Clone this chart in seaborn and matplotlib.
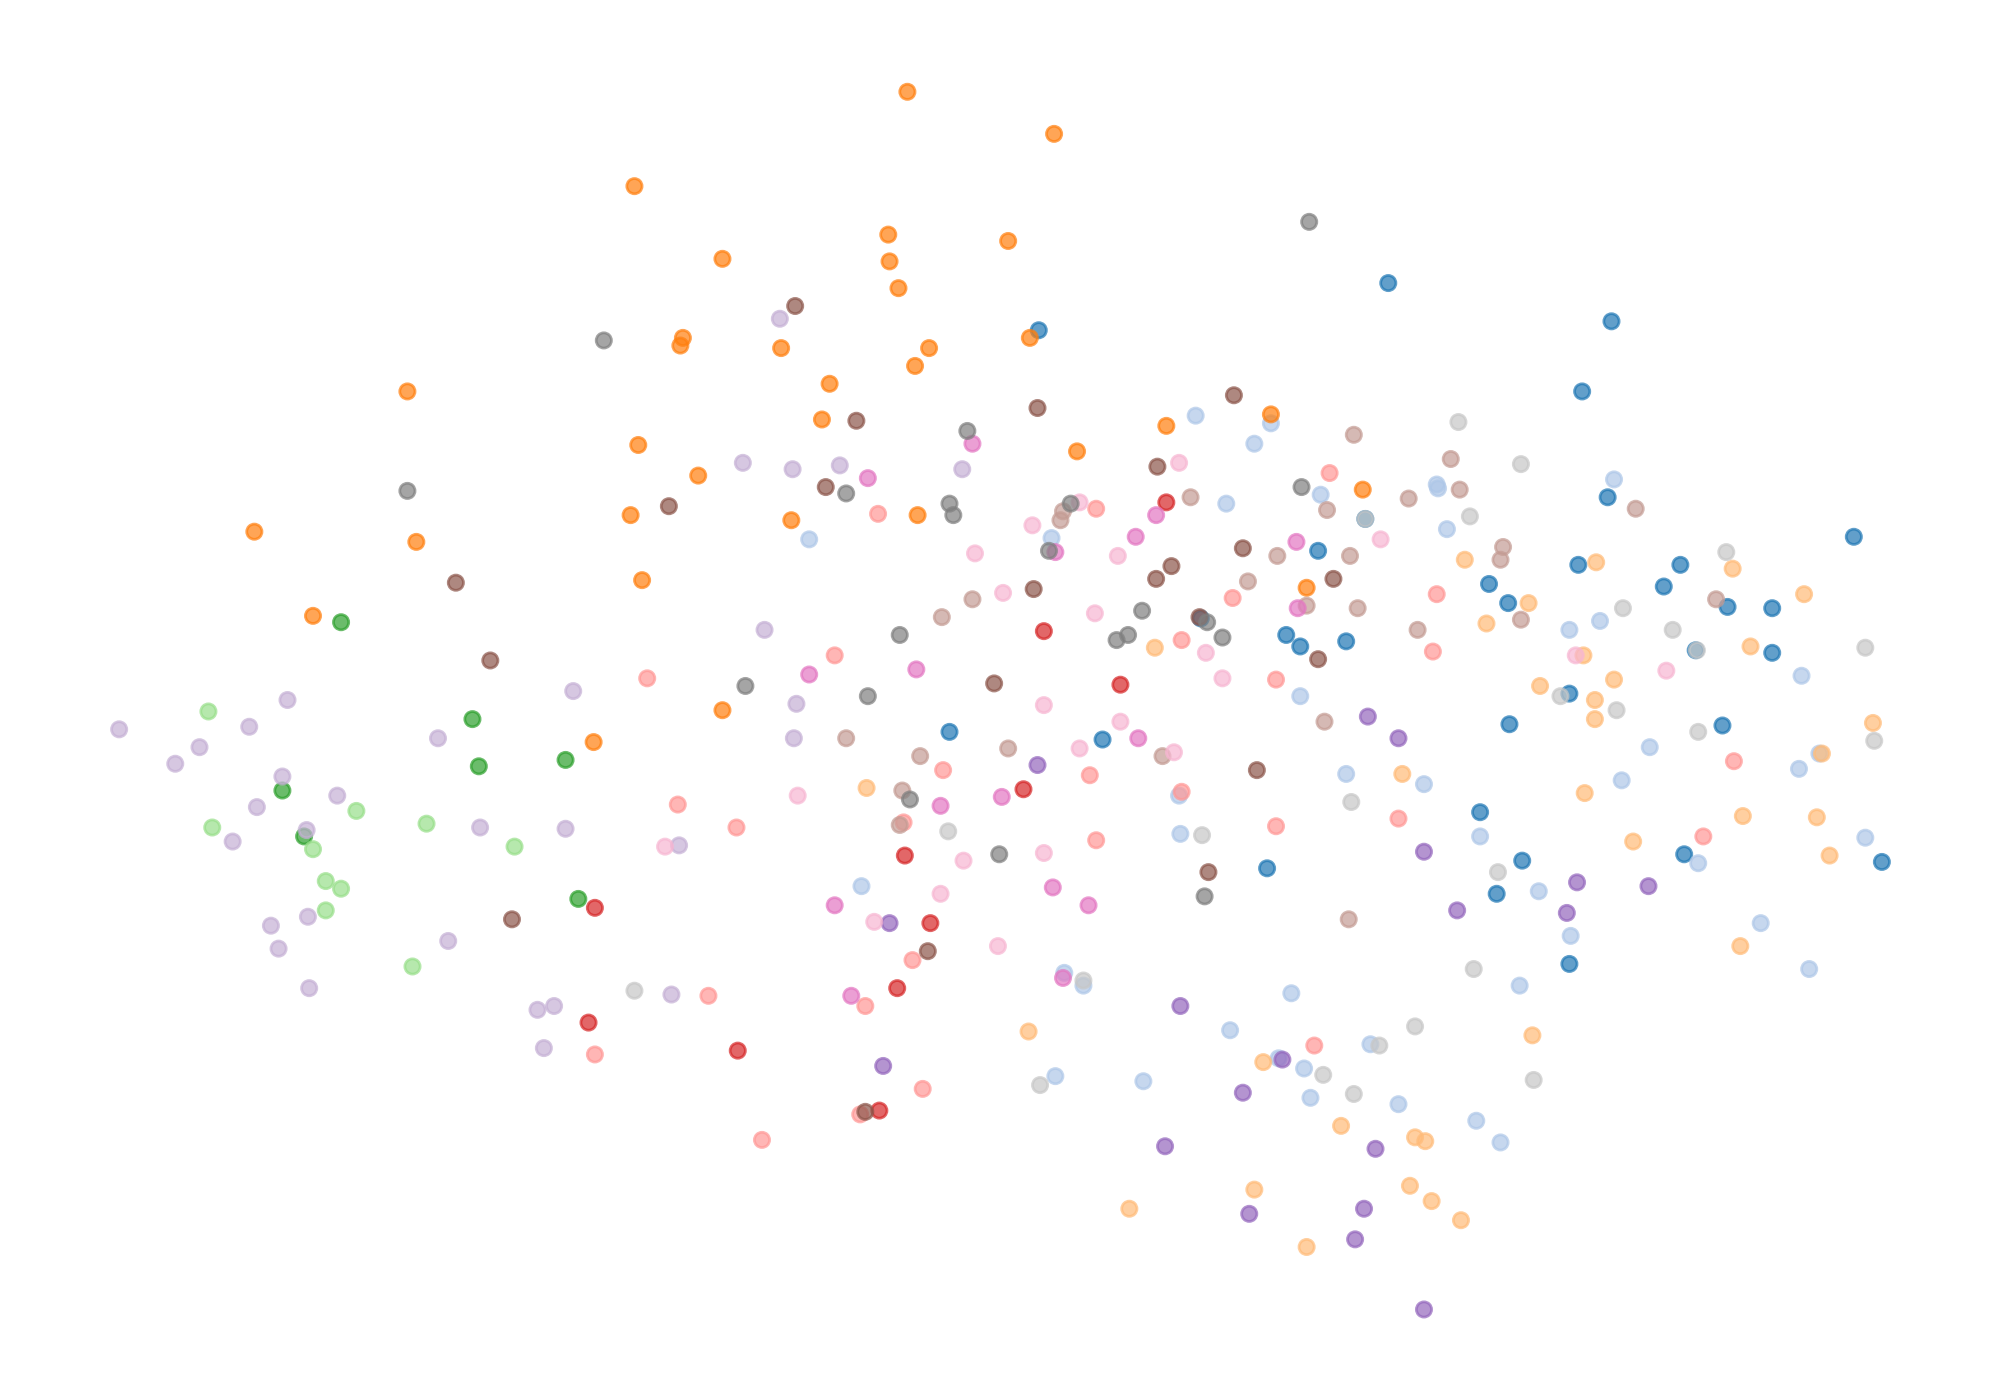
import matplotlib
matplotlib.use("Agg")
import matplotlib.pyplot as plt
import pandas as pd
import seaborn as sns

blue = [(814,259),(1088,222),(1263,252),(1240,307),(1260,390),(1453,421),(1033,432),(1237,443),(1167,458),(1182,473),(1317,443),(1304,460),(1354,476),(1389,477),(1008,498),(1019,507),(1055,503),(1329,510),(1389,512),(1230,544),(1183,568),(1350,569),(744,574),(864,580),(1160,637),(1193,675),(1320,670),(1475,676),(993,681),(1173,701),(1230,756),(941,485),(1070,407)]
light_blue = [(937,326),(996,332),(983,348),(1035,388),(1265,376),(1126,380),(1127,383),(961,395),(1134,415),(824,422),(634,423),(1230,494),(1254,487),(1412,530),(1019,546),(1293,586),(1410,603),(1271,612),(1116,615),(1055,607),(924,624),(1160,656),(925,654),(1462,657),(1331,677),(1206,699),(675,695),(1380,724),(1231,734),(834,763),(849,773),(1012,779),(1191,773),(1418,760),(964,808),(1074,819),(1002,830),(1022,838),(827,844),(896,848),(1027,861),(1096,866),(1157,879),(1176,896),(1426,591)]
orange = [(711,72),(826,105),(497,146),(696,184),(790,189),(566,203),(697,205),(704,226),(535,265),(533,271),(612,273),(728,273),(807,265),(717,287),(319,307),(650,301),(644,329),(914,334),(996,325),(844,354),(500,349),(547,373),(1068,384),(494,404),(620,408),(719,404),(199,417),(326,425),(503,455),(1024,461),(245,483),(566,557),(465,582)]
light_orange = [(1148,439),(1251,441),(1358,446),(1198,473),(1165,489),(1414,466),(905,508),(1372,507),(1241,514),(1265,533),(1207,538),(1250,549),(1250,564),(1468,567),(1428,591),(1099,607),(1242,622),(679,618),(1366,640),(1424,641),(1280,660),(1434,671),(1364,742),(806,809),(1201,812),(990,833),(1051,883),(1109,892),(1117,895),(1105,930),(983,933),(1122,942),(885,948),(1145,957),(1024,978)]
green = [(267,488),(370,564),(375,601),(443,596),(221,620),(238,656),(453,705)]
light_green = [(163,558),(279,636),(166,649),(334,646),(245,666),(403,664),(255,691),(267,697),(255,714),(323,758)]
red = [(914,394),(818,495),(878,537),(802,619),(709,671),(466,712),(729,724),(703,775),(461,802),(578,824),(689,871)]
light_red = [(1042,371),(859,399),(688,403),(966,469),(1126,466),(926,502),(654,514),(1123,511),(507,532),(1000,533),(739,604),(854,608),(1359,597),(926,621),(531,631),(1096,642),(708,645),(577,649),(1000,648),(859,659),(1335,656),(715,753),(555,781),(678,789),(1030,820),(466,827),(723,854),(674,874),(597,894)]
purple = [(1072,562),(1096,579),(813,600),(1116,668),(1236,692),(1292,695),(1142,714),(1228,716),(697,724),(925,789),(692,836),(1005,831),(974,857),(913,899),(1078,901),(1069,948),(979,952),(1062,972),(1116,1027)]
light_purple = [(611,250),(582,363),(621,368),(658,365),(754,368),(599,494),(449,542),(225,549),(195,570),(93,572),(156,586),(343,579),(622,579),(624,552),(137,599),(221,609),(264,624),(201,633),(240,651),(376,649),(443,650),(182,660),(532,663),(241,719),(212,726),(351,738),(218,744),(242,775),(526,780),(434,789),(421,792),(426,822)]
brown = [(623,240),(967,310),(813,320),(671,330),(907,366),(647,382),(524,397),(357,457),(974,430),(918,444),(906,454),(1045,454),(810,462),(940,484),(384,518),(1033,517),(779,536),(985,604),(947,684),(401,721),(727,746),(678,872)]
light_brown = [(1061,341),(1137,360),(1104,391),(1144,384),(1040,400),(1282,399),(933,390),(833,401),(831,408),(1178,429),(1176,439),(1001,436),(1058,436),(978,456),(762,470),(738,484),(1024,475),(1064,477),(1345,470),(1192,486),(1111,494),(1038,566),(663,579),(790,587),(721,593),(911,593),(707,620),(705,647),(1057,721)]
pink = [(762,348),(680,375),(890,421),(906,404),(827,433),(1016,425),(1017,477),(634,529),(718,525),(892,579),(785,625),(737,632),(825,696),(654,710),(853,710),(833,767),(667,781)]
light_pink = [(924,363),(846,394),(1082,423),(809,412),(876,436),(764,434),(786,465),(858,481),(945,512),(958,532),(1235,514),(1306,526),(818,553),(878,566),(846,587),(920,590),(625,624),(521,664),(818,669),(755,675),(737,701),(685,723),(782,742)]
gray = [(1026,174),(473,267),(758,338),(319,385),(663,387),(744,395),(747,404),(839,395),(1020,382),(822,432),(895,479),(884,498),(875,502),(946,488),(958,500),(705,498),(584,538),(680,546),(713,627),(783,670),(944,703)]
light_gray = [(1143,331),(1192,364),(1152,405),(1070,407),(1353,433),(1272,477),(1311,494),(1330,510),(1462,508),(1223,546),(1267,557),(1331,574),(1469,581),(1059,629),(743,652),(942,655),(1174,684),(1155,760),(849,769),(1109,805),(1081,820),(1037,843),(815,851),(1202,847),(1061,858),(497,777)]

series = {
    "0": blue, "1": light_blue, "2": orange, "3": light_orange,
    "4": green, "5": light_green, "6": red, "7": light_red,
    "8": purple, "9": light_purple, "10": brown, "11": light_brown,
    "12": pink, "13": light_pink, "14": gray, "15": light_gray,
}
colors = ["#1f77b4", "#aec7e8", "#ff7f0e", "#ffbb78", "#2ca02c", "#98df8a", "#d62728", "#ff9896",
          "#9467bd", "#c5b0d5", "#8c564b", "#c49c94", "#e377c2", "#f7b6d2", "#7f7f7f", "#c7c7c7"]

df = pd.DataFrame(
    [(x, y, name) for name, pts in series.items() for x, y in pts],
    columns=["x", "y", "group"],
)

sns.set_theme(style="white")
fig = plt.figure(figsize=(10, 7), dpi=200)
ax = fig.add_axes([0, 0, 1, 1])
sns.scatterplot(
    data=df, x="x", y="y", hue="group", hue_order=list(series),
    palette=colors, s=30, alpha=0.7, linewidth=1.0, legend=False, ax=ax,
)
# edges take each point's own colour
ax.collections[0].set_edgecolor("face")
ax.set_xlim(-0.4, 1567.6)
ax.set_ylim(1098, 0)
ax.axis("off")
fig.savefig("out.png", dpi=200, facecolor="white")
